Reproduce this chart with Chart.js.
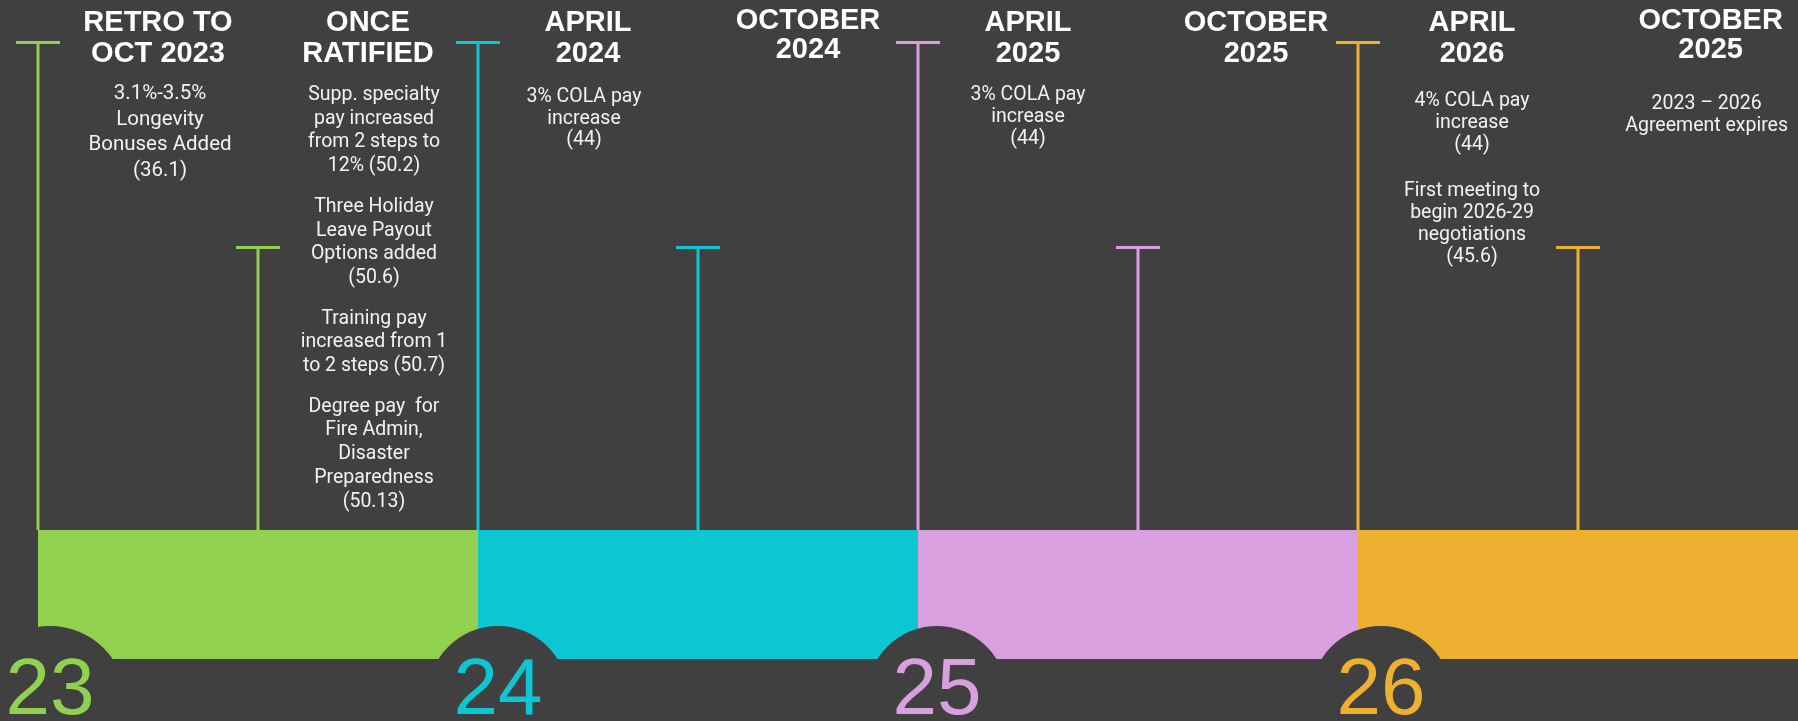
<!DOCTYPE html>
<html lang="en">
<head>
  <meta charset="UTF-8">
  <title>Contract timeline 2023-2026</title>
  <style>
    html, body { margin: 0; padding: 0; background: #404040; }
    canvas { display: block; }
  </style>
</head>
<body>
  <canvas id="timeline" width="1798" height="721"></canvas>
  <script src="https://cdn.jsdelivr.net/npm/chart.js@4.4.1/dist/chart.umd.min.js"></script>
  <script>
    // --- data ---
    const years = ['23', '24', '25', '26'];
    const bandStarts = [23, 24, 25, 26];
    const bandEnds = [24, 25, 26, 27];
    const milestoneTimes = [23, 23.5, 24, 24.5, 25, 25.5, 26, 26.5];
    const milestoneHeights = [4.78, 3.19, 4.78, 3.19, 4.78, 3.19, 4.78, 3.19];
    const headings = [
      ['RETRO TO', 'OCT 2023'],
      ['ONCE', 'RATIFIED'],
      ['APRIL', '2024'],
      ['OCTOBER', '2024'],
      ['APRIL', '2025'],
      ['OCTOBER', '2025'],
      ['APRIL', '2026'],
      ['OCTOBER', '2025']
    ];
    const notes = [
      [['3.1%-3.5%', 'Longevity', 'Bonuses Added', '(36.1)']],
      [
        ['Supp. specialty', 'pay increased', 'from 2 steps to', '12% (50.2)'],
        ['Three Holiday', 'Leave Payout', 'Options added', '(50.6)'],
        ['Training pay', 'increased from 1', 'to 2 steps (50.7)'],
        ['Degree pay  for', 'Fire Admin,', 'Disaster', 'Preparedness', '(50.13)']
      ],
      [['3% COLA pay', 'increase', '(44)']],
      [],
      [['3% COLA pay', 'increase', '(44)']],
      [],
      [
        ['4% COLA pay', 'increase', '(44)'],
        ['First meeting to', 'begin 2026-29', 'negotiations', '(45.6)']
      ],
      [['2023 \u2013 2026', 'Agreement expires']]
    ];

    // --- styles ---
    const bg = '#404040';
    const colors = ['#92D050', '#0CC6D2', '#D8A0DE', '#EEB031'];
    const yearDx = [12, 20, 19, 23];
    // per column text layout: heading baselines, body start, line height, paragraph gap, font size, nudges
    const textLayout = [
      { head: [31, 62], body: 99, lh: 25.5, gap: 18, size: 20.5, dx: 10, bodyDx: 2 },
      { head: [31, 62], body: 100, lh: 23.7, gap: 17, size: 19.5, dx: 0, bodyDx: 6 },
      { head: [31, 62], body: 102, lh: 21.7, gap: 18, size: 19.5, dx: 0, bodyDx: -4 },
      { head: [29, 58], body: 0, lh: 22, gap: 18, size: 19.5, dx: 0, bodyDx: 0 },
      { head: [31, 62], body: 100, lh: 22, gap: 18, size: 19.5, dx: 0, bodyDx: 0 },
      { head: [31, 62], body: 0, lh: 22, gap: 18, size: 19.5, dx: 8, bodyDx: 0 },
      { head: [31, 62], body: 106, lh: 22, gap: 24, size: 19.5, dx: 4, bodyDx: 0 },
      { head: [29, 58], body: 109, lh: 22, gap: 18, size: 19.5, dx: 0, bodyDx: -4, right: true }
    ];
    const headFont = 'bold 29px "Liberation Sans", Arial, sans-serif';
    const bodyFamily = 'Roboto, "Noto Sans", sans-serif';

    const bandSets = years.map((y, i) => ({
      data: [{ x: bandStarts[i], y: 1 }, { x: bandEnds[i], y: 1 }],
      fill: { value: 0 },
      backgroundColor: colors[i],
      borderColor: colors[i],
      borderWidth: 0,
      pointRadius: 0,
      clip: false
    }));

    const stemSets = milestoneTimes.map((t, i) => {
      const c = colors[Math.floor(i / 2)];
      return {
        data: [{ x: t, y: 1 }, { x: t, y: milestoneHeights[i] }],
        borderColor: c,
        borderWidth: 3,
        pointStyle: 'line',
        pointRadius: [0, 22],
        pointBorderWidth: 3,
        pointBorderColor: c,
        pointBackgroundColor: c,
        clip: false
      };
    });

    const timelinePlugin = {
      id: 'timelineText',
      afterDatasetsDraw(chart) {
        const ctx = chart.ctx;
        const xs = chart.scales.x;
        const ys = chart.scales.y;
        const base = ys.getPixelForValue(0);
        ctx.save();

        // year notches and big numbers
        ctx.font = '80px "Liberation Sans", Arial, sans-serif';
        ctx.textAlign = 'center';
        ctx.textBaseline = 'alphabetic';
        years.forEach((y, i) => {
          const cx = xs.getPixelForValue(bandStarts[i]) + yearDx[i];
          const r = i === 0 ? 76 : 70;
          ctx.fillStyle = bg;
          ctx.beginPath();
          ctx.arc(cx, base - 33 + r, r, 0, Math.PI * 2);
          ctx.fill();
          ctx.fillStyle = colors[i];
          ctx.fillText(y, cx, base + 55);
        });

        // headings and notes
        const step = xs.getPixelForValue(23.5) - xs.getPixelForValue(23);
        headings.forEach((h, i) => {
          const L = textLayout[i];
          ctx.font = headFont;
          let widest = Math.max(...h.map(s => ctx.measureText(s).width));
          ctx.font = L.size + 'px ' + bodyFamily;
          notes[i].forEach(p => p.forEach(s => { widest = Math.max(widest, ctx.measureText(s).width); }));
          let cx = xs.getPixelForValue(milestoneTimes[i]) + step / 2 + L.dx;
          if (L.right) cx = chart.width - 6 - widest / 2;

          ctx.fillStyle = '#ffffff';
          ctx.font = headFont;
          h.forEach((line, k) => ctx.fillText(line, cx, L.head[k]));

          ctx.fillStyle = '#f2f2f2';
          ctx.font = L.size + 'px ' + bodyFamily;
          let yy = L.body;
          notes[i].forEach(p => {
            p.forEach(line => {
              ctx.fillText(line, cx + L.bodyDx, yy);
              yy += L.lh;
            });
            yy += L.gap;
          });
        });
        ctx.restore();
      }
    };

    new Chart(document.getElementById('timeline'), {
      type: 'line',
      data: { datasets: [...bandSets, ...stemSets] },
      options: {
        responsive: false,
        animation: false,
        events: [],
        layout: { autoPadding: false, padding: { top: 14, bottom: 62, left: 38, right: 0 } },
        plugins: { legend: { display: false }, tooltip: { enabled: false } },
        scales: {
          x: { type: 'linear', min: 23, max: 27, display: false },
          y: { type: 'linear', min: 0, max: 5, display: false }
        }
      },
      plugins: [timelinePlugin]
    });
  </script>
</body>
</html>
